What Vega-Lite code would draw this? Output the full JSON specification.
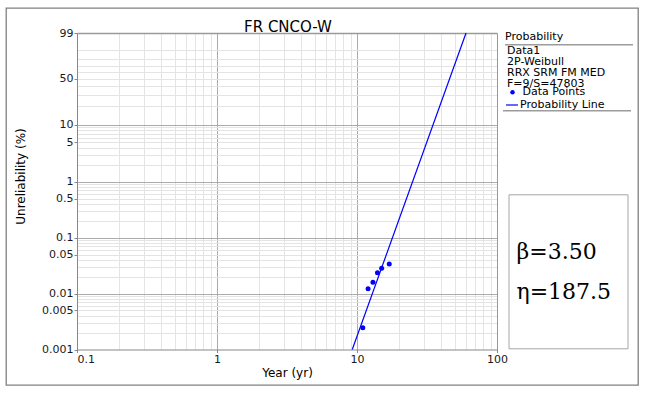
{
  "$schema": "https://vega.github.io/schema/vega-lite/v6.json",
  "width": 632,
  "height": 377,
  "autosize": {"type": "none"},
  "padding": {"left": 6, "top": 8, "right": 10, "bottom": 9},
  "background": "white",
  "title": {"text": "FR CNCO-W", "frame": "group", "anchor": "middle", "dx": -34, "dy": 13, "offset": -26, "baseline": "alphabetic", "font": "DejaVu Sans", "fontSize": 15, "fontWeight": "normal", "color": "#000000"},
  "datasets": {
    "points": [
      {"year": 11, "unreliability": 0.00246},
      {"year": 12, "unreliability": 0.0122},
      {"year": 13, "unreliability": 0.0159},
      {"year": 14, "unreliability": 0.0237},
      {"year": 15, "unreliability": 0.0284},
      {"year": 17, "unreliability": 0.0339}
    ],
    "line": [
      {"year": 9.25, "unreliability": 0.001},
      {"year": 60.1, "unreliability": 99}
    ]
  },
  "resolve": {"axis": {"x": "independent", "y": "independent"}, "scale": {"color": "independent"}},
  "layer": [
    {
      "data": {"name": "points"},
      "mark": {"type": "point", "opacity": 0},
      "encoding": {
        "color": {"datum": 1, "type": "quantitative", "scale": {"domain": [0, 1], "range": ["#9c9c9c", "#9c9c9c"]},
          "legend": {"orient": "none", "legendX": 499, "legendY": 23, "title": "Probability", "titlePadding": 2, "direction": "horizontal", "gradientLength": 128, "gradientThickness": 1.5, "gradientStrokeWidth": 0, "labelExpr": "''", "padding": 0}}
      }
    },
    {
      "data": {"name": "points"},
      "transform": [{"calculate": "log(-log(1 - datum.unreliability/100))", "as": "weibull"}],
      "mark": {"type": "point", "filled": true, "size": 25, "opacity": 1},
      "encoding": {
        "x": {"field": "year", "type": "quantitative",
          "scale": {"type": "log", "domain": [0.1, 100], "range": [71, 491], "nice": false},
          "axis": {"orient": "bottom", "offset": -35.5, "values": [0.1, 1, 10, 100], "format": "~g", "grid": false, "domainColor": "#888888", "domainWidth": 1, "tickColor": "#888888", "tickSize": 3, "labelFlush": false, "labelPadding": 1, "labelBaseline": "top",
            "labelAlign": {"condition": {"test": "datum.value < 0.5", "value": "left"}, "value": "center"},
            "title": "Year (yr)", "titlePadding": 3}},
        "y": {"field": "weibull", "type": "quantitative",
          "scale": {"domain": [-11.51292, 1.52718], "range": [341.5, 25], "nice": false, "zero": false},
          "axis": {"orient": "left", "offset": -71,
            "values": [-11.51292, -10.81977, -10.4143, -10.12661, -9.90346, -9.72114, -9.56698, -9.43344, -9.31566, -9.21029, -8.51709, -8.11158, -7.82385, -7.60065, -7.41828, -7.26408, -7.1305, -7.01267, -6.90726, -6.21361, -5.80764, -5.51946, -5.29581, -5.11299, -4.95834, -4.8243, -4.70601, -4.60015, -3.90194, -3.49137, -3.19854, -2.9702, -2.78263, -2.62319, -2.48433, -2.36116, -2.25037, -1.49994, -1.03093, -0.67173, -0.36651, -0.08742, 0.18563, 0.47588, 0.83403, 1.52718],
            "labelExpr": "indexof(['0.001','0.005','0.01','0.05','0.1','0.5','1','5','10','50','99'], format(100*(1-exp(-exp(datum.value))), '.2~r')) >= 0 ? format(100*(1-exp(-exp(datum.value))), '.2~r') : ''",
            "labelFlush": false, "labelPadding": 1, "domainColor": "#888888", "tickColor": "#888888", "tickSize": 3,
            "tickOpacity": {"condition": {"test": "indexof(['0.001','0.005','0.01','0.05','0.1','0.5','1','5','10','50','99'], format(100*(1-exp(-exp(datum.value))), '.2~r')) >= 0", "value": 1}, "value": 0},
            "grid": true,
            "gridColor": {"condition": {"test": "abs(log(100*(1-exp(-exp(datum.value))))/LN10 - round(log(100*(1-exp(-exp(datum.value))))/LN10)) < 0.01", "value": "#ababab"}, "value": "#e4e4e4"},
            "gridOpacity": {"condition": {"test": "datum.value < -11.5 || datum.value > 1.5", "value": 0}, "value": 1},
            "title": "Unreliability (%)", "titleAngle": 270, "titleAlign": "center", "titleBaseline": "middle", "titleX": -56.5, "titleY": 168}},
        "color": {"datum": "Data Points", "scale": {"range": ["#0000ff"]},
          "legend": {"orient": "none", "legendX": 501, "legendY": 37, "title": ["Data1", "2P-Weibull", "RRX SRM FM MED", "F=9/S=47803"], "titleLineHeight": 11.1, "titlePadding": -2.5, "symbolSize": 20, "symbolType": "circle", "symbolOpacity": 1, "labelOffset": 4.5, "padding": 0}}
      }
    },
    {
      "data": {"name": "line"},
      "transform": [{"calculate": "log(-log(1 - datum.unreliability/100))", "as": "weibull"}],
      "mark": {"type": "line", "strokeWidth": 1.2},
      "encoding": {
        "x": {"field": "year", "type": "quantitative",
          "scale": {"type": "log", "domain": [0.1, 100], "range": [71, 491], "nice": false},
          "axis": {"orient": "top", "offset": -25, "values": [0.2, 0.3, 0.4, 0.5, 0.6, 0.7, 0.8, 0.9, 1, 2, 3, 4, 5, 6, 7, 8, 9, 10, 20, 30, 40, 50, 60, 70, 80, 90], "labels": false, "ticks": false, "domainColor": "#9a9a9a", "domainWidth": 1.5, "grid": true,
            "gridColor": {"condition": {"test": "datum.value == 1 || datum.value == 10", "value": "#ababab"}, "value": "#e4e4e4"},
            "title": null}},
        "y": {"field": "weibull", "type": "quantitative",
          "scale": {"domain": [-11.51292, 1.52718], "range": [341.5, 25], "nice": false, "zero": false},
          "axis": {"orient": "right", "offset": -141, "values": [], "labels": false, "ticks": false, "grid": false, "domainColor": "#9a9a9a", "domainWidth": 1, "title": null}},
        "color": {"datum": "Probability Line", "scale": {"range": ["#0000ff"]},
          "legend": {"orient": "none", "legendX": 499, "legendY": 90, "title": null, "symbolType": "stroke", "symbolSize": 144, "symbolStrokeWidth": 1.2, "symbolOpacity": 1, "labelOffset": 1, "padding": 0}}
      }
    },
    {
      "data": {"name": "points"},
      "mark": {"type": "point", "opacity": 0},
      "encoding": {
        "color": {"datum": 2, "type": "quantitative", "scale": {"domain": [0, 3], "range": ["#9c9c9c", "#9c9c9c"]},
          "legend": {"orient": "none", "legendX": 497, "legendY": 102, "title": null, "direction": "horizontal", "gradientLength": 128, "gradientThickness": 1.5, "gradientStrokeWidth": 0, "labelExpr": "''", "padding": 0}}
      }
    },
    {
      "data": {"name": "points"},
      "mark": {"type": "point", "opacity": 0},
      "encoding": {
        "color": {"datum": "parameters", "scale": {"range": ["#ffffff"]},
          "legend": {"orient": "none", "legendX": 502.5, "legendY": 186.3, "title": [" ", "β=3.50", "η=187.5"], "titleFont": "DejaVu Serif", "titleFontSize": 22, "titleFontWeight": "normal", "titleLineHeight": 40, "titlePadding": 25, "padding": 8, "strokeColor": "#a6a6a6", "symbolOpacity": 0, "labelOpacity": 0, "symbolSize": 100, "labelExpr": "'0000000000000'", "labelOffset": 0}}
      }
    }
  ],
  "config": {
    "view": {"stroke": "#808080", "strokeWidth": 1.3},
    "font": "DejaVu Sans",
    "axis": {"labelFont": "DejaVu Sans", "labelFontSize": 11, "labelColor": "#1a1a1a", "titleFont": "DejaVu Sans", "titleFontSize": 12, "titleFontWeight": "normal", "titleColor": "#000000"},
    "legend": {"titleFont": "DejaVu Sans", "titleFontSize": 11, "titleFontWeight": "normal", "titleColor": "#000000", "labelFont": "DejaVu Sans", "labelFontSize": 11, "labelColor": "#000000", "padding": 0}
  }
}
